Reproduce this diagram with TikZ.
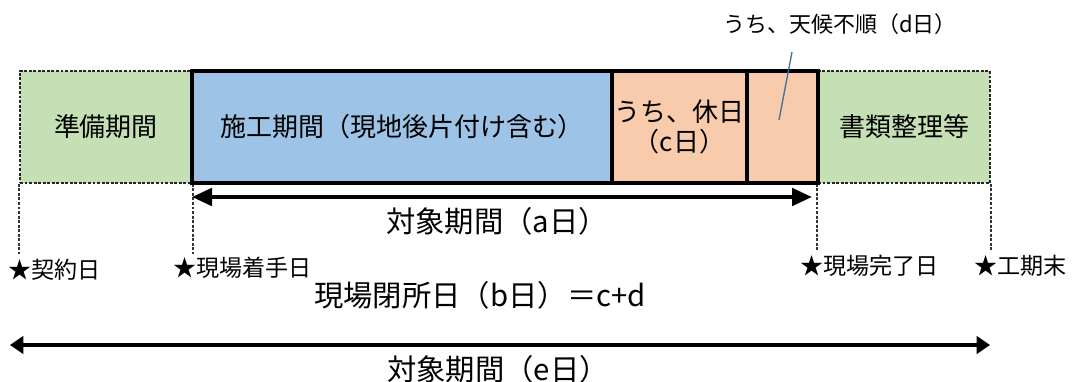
\documentclass[tikz,border=0pt]{standalone}
\usepackage{fontspec}
\setmainfont{Noto Sans CJK JP}
\usetikzlibrary{arrows.meta}
\definecolor{gfill}{HTML}{C5E0B4}
\definecolor{bfill}{HTML}{9DC3E6}
\definecolor{ofill}{HTML}{F8CBAD}
\definecolor{callout}{HTML}{41719C}
\begin{document}
\begin{tikzpicture}[x=0.75pt,y=-0.75pt,
  boxbase/.style={rectangle,inner sep=0pt,minimum height={112*0.75pt},font=\fontsize{19.5pt}{23pt}\selectfont},
  gbox/.style={boxbase,fill=gfill,draw=black!85,line width=1.3pt,dash pattern=on 2.2pt off 1.2pt},
  sbox/.style={boxbase,draw=black,line width=2.4pt},
  guide/.style={draw=black!80,line width=1.3pt,dash pattern=on 2.2pt off 1.2pt},
  biglbl/.style={font=\fontsize{22pt}{26pt}\selectfont,inner sep=0pt},
  smlbl/.style={font=\fontsize{17.3pt}{20pt}\selectfont,inner sep=0pt,anchor=west},
  span/.style={line width=3pt,{Triangle[length=15pt,width=13pt]}-{Triangle[length=15pt,width=13pt]}},
]
\useasboundingbox (0,0) rectangle (1072,382);
% boxes
\node[gbox,minimum width={172*0.75pt}] (prep) at (106,127) {準備期間};
\node[gbox,minimum width={172*0.75pt}] (docs) at (904,127) {書類整理等};
\draw[guide] (prep.south west) -- ++(0,70) coordinate (g1);
\draw[guide] (prep.south east) -- ++(0,70) coordinate (g2);
\draw[guide] (docs.south west) -- ++(0,67) coordinate (g3);
\draw[guide] (docs.south east) -- ++(0,67) coordinate (g4);
\node[sbox,fill=bfill,minimum width={420*0.75pt}] (work) at (402,127) {施工期間（現地後片付け含む）};
\node[sbox,fill=ofill,minimum width={135*0.75pt},align=center] (hol) at (679.5,127) {うち、休日\\（c日）};
\node[sbox,fill=ofill,minimum width={71*0.75pt}] (wx) at (782.5,127) {};
% callout
\node[font=\fontsize{16.5pt}{19pt}\selectfont,inner sep=0pt] (wxlbl) at (840,24) {うち、天候不順（d日）};
\coordinate (c1) at (792,52);
\coordinate (c2) at (779,120);
\draw[callout,line width=1pt] (c1) -- (c2);
% span a
\coordinate (a1) at (192,197);
\coordinate (a2) at (812,197);
\draw[span] (a1) -- (a2);
\node[biglbl] (alab) at (497,221) {対象期間（a日）};
% date labels
\node[smlbl] (d1) at (8,270) {★契約日};
\node[smlbl] (d2) at (173,268) {★現場着手日};
\node[smlbl] (d3) at (800,266) {★現場完了日};
\node[smlbl] (d4) at (974,266) {★工期末};
\node[biglbl] (blab) at (480,295) {現場閉所日（b日）＝c+d};
% span e
\coordinate (e1) at (10,345);
\coordinate (e2) at (990,345);
\draw[span,{Triangle[length=10pt,width=13pt]}-{Triangle[length=10pt,width=13pt]}] (e1) -- (e2);
\node[biglbl] (elab) at (498,369) {対象期間（e日）};
\end{tikzpicture}
\end{document}
